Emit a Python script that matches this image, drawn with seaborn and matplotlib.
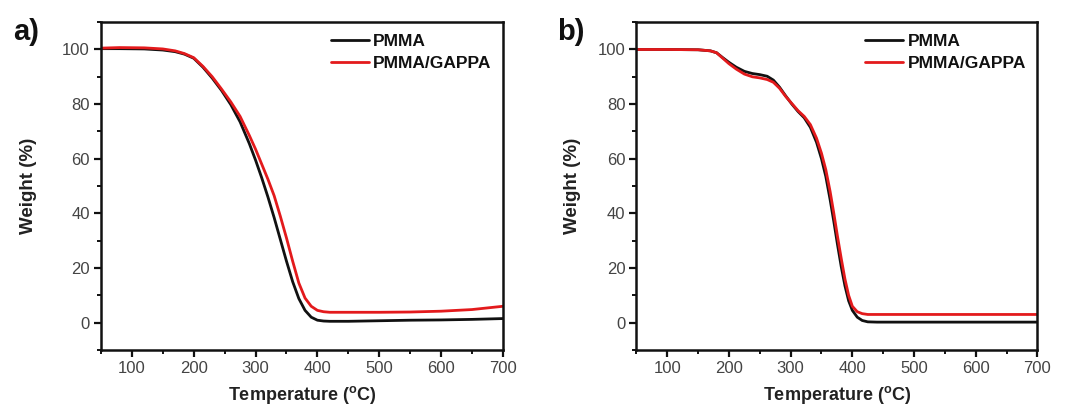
import matplotlib
matplotlib.use("Agg")
import matplotlib.pyplot as plt
from matplotlib.ticker import MultipleLocator
import seaborn as sns
import pandas as pd

# Panel a: TGA curves
temp_a = [50, 80, 120, 150, 170, 185, 200, 215, 230, 245, 260, 275, 290, 300, 310,
          320, 330, 340, 350, 360, 370, 380, 390, 400, 410, 420, 450, 500, 550,
          600, 650, 700]
pmma_a = [100.3, 100.3, 100.2, 99.8, 99.2, 98.3, 96.8, 93.5, 89.5, 85.0, 79.8, 73.5,
          65.5, 59.5, 53.0, 46.0, 38.5, 30.5, 22.5, 15.0, 8.8, 4.5, 2.0, 0.9, 0.6, 0.5,
          0.5, 0.7, 0.9, 1.0, 1.2, 1.5]
gappa_temp_a = [50, 80, 120, 150, 170, 185, 200, 215, 230, 245, 260, 275, 290, 300,
                310, 320, 330, 340, 350, 360, 370, 380, 390, 400, 410, 420, 450, 500,
                550, 600, 650, 700]
gappa_a = [100.5, 100.7, 100.6, 100.2, 99.5, 98.5, 97.0, 93.8, 90.0, 85.5, 80.8, 75.5,
           68.5, 63.5, 58.0, 52.5, 46.5, 39.0, 31.0, 22.5, 14.5, 9.0, 6.0, 4.5, 4.0,
           3.8, 3.8, 3.8, 3.9, 4.2, 4.8, 6.0]

# Panel b: TGA curves
temp_b = [50, 100, 150, 170, 180, 190, 200, 212, 225, 238, 250, 262, 272, 282, 292,
          302, 312, 322, 332, 342, 350, 357, 364, 370, 376, 382, 388, 394, 400, 408,
          416, 425, 440, 500, 600, 700]
pmma_b = [100.0, 100.0, 99.9, 99.5, 98.8, 97.0, 95.3, 93.5, 92.0, 91.2, 90.8, 90.2,
          88.8, 86.2, 83.0, 80.0, 77.3, 75.0, 71.5, 66.0, 60.0, 53.5, 45.0, 37.0,
          28.5, 20.5, 13.5, 8.0, 4.5, 2.0, 0.8, 0.3, 0.2, 0.2, 0.2, 0.2]
gappa_b = [100.0, 100.0, 99.9, 99.5, 98.8, 96.8, 94.8, 92.8, 91.0, 90.0, 89.6, 89.0,
           88.0, 85.8, 82.8, 80.2, 77.6, 75.5, 72.5, 67.5, 62.0, 56.0, 48.0, 40.0,
           31.5, 23.5, 16.0, 10.0, 6.0, 4.0, 3.3, 3.0, 3.0, 3.0, 3.0, 3.0]

series_names = ["PMMA", "PMMA/GAPPA"]
series_colors = ["#111111", "#e31a1c"]
x_ticks = [100, 200, 300, 400, 500, 600, 700]
y_ticks = [0, 20, 40, 60, 80, 100]
panel_labels = ["a)", "b)"]

sns.set_theme(style="white")
plt.rcParams["font.family"] = ["Liberation Sans", "DejaVu Sans"]
plt.rcParams["mathtext.fontset"] = "custom"
plt.rcParams["mathtext.bf"] = "Liberation Sans:bold"
plt.rcParams["mathtext.rm"] = "Liberation Sans"

fig = plt.figure(figsize=(10.66, 4.16), dpi=100)
ax_a = fig.add_axes([0.0947, 0.1587, 0.3771, 0.788])
ax_b = fig.add_axes([0.5970, 0.1587, 0.3762, 0.788])

panels = [
    (temp_a, pmma_a, gappa_temp_a, gappa_a),
    (temp_b, pmma_b, temp_b, gappa_b),
]
ylabel_pads = [18, 12]

for ax, (tx1, y1, tx2, y2), ypad in zip([ax_a, ax_b], panels, ylabel_pads):
    df = pd.concat([
        pd.DataFrame({"Temperature": tx1, "Weight": y1, "Sample": series_names[0]}),
        pd.DataFrame({"Temperature": tx2, "Weight": y2, "Sample": series_names[1]}),
    ], ignore_index=True)
    sns.lineplot(data=df, x="Temperature", y="Weight", hue="Sample",
                 palette=series_colors, linewidth=2.0, ax=ax, sort=True,
                 estimator=None)
    ax.set_xlim(50, 700)
    ax.set_ylim(-10, 110)
    ax.set_xticks(x_ticks)
    ax.set_yticks(y_ticks)
    ax.xaxis.set_minor_locator(MultipleLocator(50))
    ax.yaxis.set_minor_locator(MultipleLocator(10))
    ax.tick_params(axis="both", which="major", direction="out", length=5, width=1.6,
                   color="#111111", labelsize=12, labelcolor="#444444",
                   bottom=True, left=True, top=False, right=False, pad=3)
    ax.tick_params(axis="both", which="minor", direction="out", length=3, width=1.4,
                   color="#111111", bottom=True, left=True, top=False, right=False)
    for sp in ax.spines.values():
        sp.set_linewidth(1.8)
        sp.set_color("#111111")
    ax.set_xlabel(r"Temperature ($\mathregular{^{o}}$C)", fontsize=13, fontweight="bold",
                  color="#222222", labelpad=6)
    ax.set_ylabel("Weight (%)", fontsize=13.5, fontweight="bold", color="#222222",
                  labelpad=ypad)
    leg = ax.legend(loc="upper right", frameon=False, fontsize=12.5,
                    handlelength=2.2, handletextpad=0.25, labelspacing=0.4,
                    borderaxespad=0.25, title=None)
    for t in leg.get_texts():
        t.set_fontweight("bold")
        t.set_color("#111111")
    for h in leg.get_lines():
        h.set_linewidth(2.0)
    ax.grid(False)

fig.text(0.012, 0.905, panel_labels[0], fontsize=21, fontweight="bold", color="#111111")
fig.text(0.523, 0.905, panel_labels[1], fontsize=21, fontweight="bold", color="#111111")

fig.savefig("out.png", dpi=100, facecolor="white")
